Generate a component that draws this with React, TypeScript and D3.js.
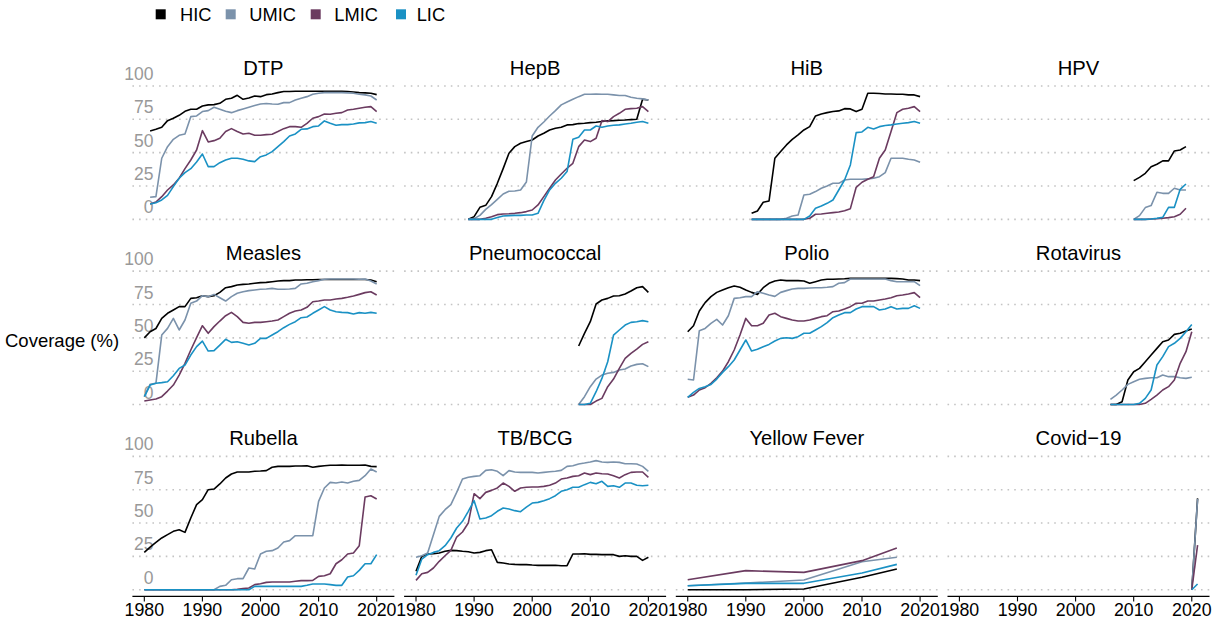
import React from "react";
import * as d3 from "d3";

const groups = ["HIC", "UMIC", "LMIC", "LIC"];
const groupColors = ["#000000", "#7b92ab", "#6b3b60", "#1a91c4"];
const xTicks = [1980, 1990, 2000, 2010, 2020];
const yTicks = [0, 25, 50, 75, 100];

// DTP 1981-2020
const dtpYears = d3.range(1981, 2021);
const dtpHIC = [66.3, 67.5, 69, 74, 75.8, 78, 81, 82.5, 82.5, 85, 85.8, 86, 87, 90, 90.8, 93, 90, 91, 92.5, 92, 93.5, 94, 95, 95.8, 95.8, 96, 96, 96, 96, 96, 96, 96, 96, 96, 95.8, 95.5, 95, 94.8, 94.5, 93.5];
const dtpUMIC = [16.5, 17, 45.8, 54.5, 60, 63, 64, 77, 77.5, 80.8, 81.5, 84, 82.5, 81, 80, 81.5, 82.8, 84, 85.3, 86.5, 86.8, 86.5, 86.3, 87.5, 87.5, 89.5, 90.8, 92, 93.8, 94.5, 95, 95, 95, 95, 94.8, 94.5, 93.8, 93.3, 92.5, 89.5];
const dtpLMIC = [11.5, 13, 17, 22, 25.8, 30.8, 38, 44.5, 52, 66.5, 58, 59, 60.8, 65.8, 68, 65.8, 64, 64.5, 63, 63, 63.5, 63.8, 65.8, 68, 69.5, 69.5, 69, 72, 75.8, 77, 79, 78.8, 79.5, 80, 82, 82.5, 83.3, 84, 84.5, 80.8];
const dtpLIC = [11.5, 12.5, 14.5, 18, 24.5, 30.8, 35, 38, 43, 49, 39.5, 39.5, 42.5, 44.5, 45.8, 45.8, 45, 43.8, 43.3, 47, 48.3, 50.8, 54.5, 58.3, 62.5, 64, 67.5, 67.8, 69.5, 70, 73.8, 72, 70.5, 71, 71, 71.5, 72.3, 72.5, 73.3, 72];

// HepB 1989-2020
const hepbYears = d3.range(1989, 2021);
const hepbHIC = [0, 2, 9, 10.5, 17, 27, 38, 49.5, 54.5, 57, 58.3, 59.5, 62.5, 64.5, 67, 68.3, 69, 70.8, 71, 71.8, 72, 72.5, 72.8, 73.3, 73.8, 74, 74.3, 74.5, 74.8, 75, 90, 89.5];
const hepbUMIC = [0, 0.5, 3, 7.5, 11, 15, 19, 21, 21.3, 22, 28, 62.5, 69, 73, 77.5, 81.5, 85.8, 88, 90, 92, 93.8, 93.8, 94, 93.8, 93.8, 93.3, 92.8, 92.8, 91.5, 90.8, 90.3, 89.5];
const hepbLMIC = [0, 0, 0, 0.8, 2, 3.5, 4, 4.2, 4.5, 5, 5.8, 7, 10.8, 17, 23.3, 29.5, 34, 38.3, 42, 54.5, 59.5, 58.3, 60.8, 74, 73.3, 77, 79.5, 82.5, 83, 83.3, 84.5, 80.8];
const hepbLIC = [0, 0, 0, 0, 0, 1.3, 2.5, 2.8, 3, 3, 3.3, 3.3, 4.5, 14, 22, 27, 30.8, 35.8, 60, 61.5, 67, 67, 70, 69, 70, 70.5, 70.8, 71.5, 72, 72.8, 73.3, 72];

// HiB 1991-2020
const hibYears = d3.range(1991, 2021);
const hibHIC = [4.5, 6.3, 12.8, 13.8, 45.8, 50.8, 55.8, 60, 63.3, 67, 69.5, 77.5, 79, 80, 80.8, 81.3, 83, 82.8, 80.8, 82.5, 94.5, 94.5, 94.3, 94, 94, 93.8, 93.8, 93.3, 93.3, 92];
const hibUMIC = [0, 0, 0, 0, 0, 0, 0.8, 2.5, 3.3, 18.3, 18.8, 20.8, 23.3, 25, 27, 27, 29.5, 30, 30, 30, 30.3, 30.8, 32, 35, 45.8, 45.8, 45.8, 45, 44.5, 42.8];
const hibLMIC = [0, 0, 0, 0, 0, 0, 0, 0, 0, 0, 0.8, 3.8, 4, 4.5, 5, 5.5, 6.5, 8, 24, 27.8, 30, 32, 45.8, 52, 65.8, 80, 82.5, 83.3, 84.5, 80.8];
const hibLIC = [0, 0, 0, 0, 0, 0, 0, 0, 0, 0, 2.5, 8.3, 10, 12, 14.5, 22, 29.5, 40.8, 65, 65.5, 69, 67.8, 69.5, 70.3, 70.8, 71.5, 72, 72.5, 73.3, 72];

// HPV 2010-2019
const hpvYears = d3.range(2010, 2020);
const hpvHIC = [29, 31.5, 34.5, 39.5, 41.3, 43.8, 43.8, 51.3, 52, 54.5];
const hpvUMIC = [0, 2.8, 8.8, 10.3, 20.3, 19.5, 19.5, 23.3, 22, 22];
const hpvLMIC = [0, 0, 0, 0.3, 0.5, 0.8, 1.3, 2, 3.8, 8.3];
const hpvLIC = [0, 0, 0, 0.3, 0.8, 1.5, 9, 9, 22.5, 26.5];

// Measles 1980-2020
const measlesYears = d3.range(1980, 2021);
const measlesHIC = [50, 54.6, 57, 64.6, 68.4, 70.9, 73.4, 73.4, 79.6, 80.1, 81.6, 80.9, 81.6, 84.1, 87.6, 88.4, 89.6, 90.1, 90.4, 90.9, 91.4, 91.6, 92.1, 92.6, 92.9, 92.9, 93.4, 93.4, 93.6, 93.6, 93.8, 93.8, 93.8, 93.8, 93.8, 93.8, 93.8, 93.8, 93.8, 93.4, 92.1];
const measlesUMIC = [5.9, 15.1, 15.9, 52.1, 57.1, 64.6, 55.9, 63.4, 75.9, 77.6, 81.6, 80.9, 82.6, 80.1, 77.6, 80.9, 83.4, 84.6, 85.4, 85.9, 86.4, 86.6, 87.1, 86.4, 86.4, 86.6, 87.1, 90.4, 90.9, 92.1, 92.9, 93.9, 94.1, 94.1, 94.1, 94.1, 94.1, 93.9, 94.1, 92.6, 90.4];
const measlesLMIC = [2.6, 3.4, 4.1, 5.9, 10.1, 14.6, 22.1, 30.9, 40.9, 50.1, 59.1, 53.4, 58.4, 62.6, 66.6, 69.1, 65.9, 61.6, 60.9, 61.6, 61.6, 62.1, 62.6, 63.4, 65.9, 68.4, 70.1, 70.9, 72.9, 77.1, 77.6, 78.4, 78.4, 79.1, 79.6, 80.4, 81.4, 82.6, 83.9, 84.6, 82.1];
const measlesLIC = [5.9, 14.6, 15.9, 16.4, 17.1, 21.6, 27.1, 29.6, 37.1, 43.4, 47.6, 40.1, 40.4, 44.6, 48.9, 46.6, 47.1, 45.9, 44.6, 45.9, 49.6, 49.6, 52.1, 54.6, 57.6, 60.1, 62.1, 65.1, 65.6, 68.4, 70.9, 73.4, 70.9, 69.6, 69.1, 68.9, 67.9, 68.9, 68.4, 69.1, 68.4];

// Pneumococcal 2008-2020
const pneumoYears = d3.range(2008, 2021);
const pneumoHIC = [43.9, 53.4, 62.1, 75.4, 78.4, 79.6, 81.4, 81.6, 82.9, 85.1, 87.6, 88.4, 84.1];
const pneumoUMIC = [0, 5.9, 13.4, 19.1, 22.1, 23.4, 24.1, 25.9, 26.6, 28.9, 30.1, 30.6, 28.4];
const pneumoLMIC = [0, 0, 0, 2.6, 4.6, 13.4, 19.1, 27.1, 34.6, 38.4, 41.6, 45.1, 47.1];
const pneumoLIC = [0, 0, 0.9, 9.6, 19.6, 32.1, 52.1, 55.9, 59.6, 61.6, 62.1, 62.9, 62.1];

// Polio 1980-2020
const polioYears = d3.range(1980, 2021);
const polioHIC = [54.6, 59.1, 70.1, 76.4, 80.9, 84.1, 85.9, 87.6, 88.9, 87.9, 85.9, 84.1, 82.6, 87.6, 90.9, 92.6, 93.4, 92.9, 92.9, 92.9, 92.6, 90.9, 92.1, 93.4, 93.9, 93.9, 94.1, 94.3, 94.6, 94.6, 94.6, 94.6, 94.6, 94.6, 94.6, 94.6, 94.4, 94.1, 93.4, 93.4, 92.9];
const polioUMIC = [18.9, 18.4, 55.4, 57.1, 60.9, 63.9, 59.6, 66.6, 79.6, 80.1, 80.9, 80.9, 84.6, 83.4, 82.1, 81.1, 84.1, 85.4, 86.6, 87.1, 87.1, 87.4, 87.6, 87.6, 87.9, 88.4, 90.9, 91.4, 94.1, 94.1, 94.1, 94.1, 94.1, 94.1, 94.1, 92.9, 92.1, 92.1, 92.1, 92.1, 89.1];
const polioLMIC = [5.4, 7.1, 10.9, 12.6, 15.9, 20.1, 25.1, 32.1, 40.9, 52.1, 64.6, 59.1, 59.1, 60.9, 67.1, 68.4, 65.9, 64.6, 63.4, 62.6, 62.6, 63.4, 64.6, 65.9, 66.6, 69.6, 70.1, 71.6, 73.4, 75.9, 75.9, 77.6, 77.6, 78.4, 79.1, 80.1, 81.6, 82.1, 82.9, 83.9, 80.1];
const polioLIC = [5.4, 9.1, 12.1, 13.4, 15.1, 19.1, 24.1, 28.4, 33.4, 40.9, 48.4, 40.1, 41.4, 43.4, 45.1, 47.6, 49.6, 50.1, 49.6, 50.9, 53.4, 53.4, 55.9, 58.4, 61.4, 65.1, 67.1, 68.9, 68.9, 71.6, 73.4, 73.4, 73.4, 70.9, 71.6, 73.4, 71.6, 72.1, 72.1, 74.1, 72.1];

// Rotavirus 2006-2020
const rotaYears = d3.range(2006, 2021);
const rotaHIC = [0, 0, 2.1, 18.4, 24.6, 27.1, 32.1, 37.1, 42.1, 47.1, 48.4, 52.6, 53.4, 55.1, 56.6];
const rotaUMIC = [3.9, 7.1, 10.9, 15.1, 17.1, 18.9, 19.6, 20.1, 20.1, 22.1, 20.9, 20.9, 20.1, 19.6, 20.4];
const rotaLMIC = [0, 0, 0, 0, 0, 0, 0.9, 3.9, 7.1, 10.9, 13.4, 18.4, 30.9, 39.6, 54.6];
const rotaLIC = [0, 0, 0, 0, 0, 0.9, 4.6, 10.9, 29.6, 35.9, 43.4, 45.9, 49.6, 54.6, 60.1];

// Rubella 1980-2020
const rubellaYears = d3.range(1980, 2021);
const rubellaHIC = [28, 32, 35.5, 38.8, 41.3, 43.8, 45, 43, 53.8, 63.8, 67.5, 75, 75.5, 79.3, 83.8, 86.8, 88.3, 88.3, 88.3, 88.8, 89, 89.3, 91.8, 92.5, 92.5, 92.5, 92.8, 92.8, 93, 91.8, 92.5, 93, 93.3, 93.3, 93.5, 93.3, 93.3, 93.3, 93.5, 92.5, 92.3];
const rubellaUMIC = [0, 0, 0, 0, 0, 0, 0, 0, 0, 0, 0, 0, 0, 2.5, 3.3, 7.5, 8.3, 8.3, 16.3, 15.5, 26.8, 28.8, 29.3, 31.3, 35.8, 36.8, 40.5, 40.5, 40.5, 40.5, 66.3, 76.3, 80.5, 80, 80.8, 80, 81.3, 82, 85.5, 90.5, 88.3];
const rubellaLMIC = [0, 0, 0, 0, 0, 0, 0, 0, 0, 0, 0, 0, 0, 0, 0, 0, 0.3, 0.8, 1.3, 3.8, 4.5, 5.5, 5.8, 5.8, 5.8, 5.8, 6.3, 6.8, 6.8, 7, 10, 10.5, 12, 19.5, 22.5, 26.8, 27.5, 33, 69.5, 70.5, 68];
const rubellaLIC = [0, 0, 0, 0, 0, 0, 0, 0, 0, 0, 0, 0, 0, 0, 0, 0, 0, 0, 0, 2.5, 2.5, 2.5, 2.5, 2.5, 2.5, 2.5, 2.5, 2.5, 3.3, 4.3, 4.3, 4.3, 3.8, 3.3, 3.3, 9.5, 10.5, 14.5, 19.5, 19.5, 26.3];

// TB/BCG 1980-2020
const bcgYears = d3.range(1980, 2021);
const bcgHIC = [13.8, 25, 26.8, 27, 27.5, 28.8, 29.5, 29.3, 28.8, 28.5, 27.5, 28, 29.3, 30, 20.5, 20, 19.3, 19, 18.8, 18.8, 18.5, 18.3, 18.3, 18.3, 18.3, 18, 18, 26.8, 26.8, 27, 26.5, 26.5, 26.3, 26.3, 26.3, 25, 25.5, 25, 25, 22, 24.3];
const bcgUMIC = [24.3, 25.5, 27.5, 41.3, 55, 60, 63.8, 73, 83, 84.3, 85, 85.5, 89.5, 90, 88.8, 85.5, 89.3, 88.3, 88, 88, 88, 87.5, 88, 88.5, 88.8, 89.5, 92.5, 93, 94.3, 95, 95.8, 96.8, 95.8, 95.5, 95.8, 95.5, 94.5, 94.5, 94.3, 92.5, 88.8];
const bcgLMIC = [7, 12, 13, 16.3, 21.3, 25.5, 29.5, 39.5, 43.3, 50, 72, 68.3, 73, 74.5, 76.3, 80, 77.5, 73.8, 76.3, 76.8, 77, 77, 77.5, 78.3, 80, 83, 83.8, 85, 85.5, 87.5, 86.3, 87.5, 87, 86.8, 85.5, 83.8, 86.3, 88, 88.3, 88.3, 84.3];
const bcgLIC = [10.8, 23, 26.3, 28, 29.3, 33, 38.8, 46.3, 51.3, 58.8, 66.8, 53, 53.8, 55.5, 58.8, 61.3, 60.5, 59.3, 58.5, 62, 65, 65.5, 66.8, 68.3, 70.5, 73.8, 75, 76.8, 76.8, 78.8, 80.5, 79.5, 81.3, 77.5, 78, 76.8, 80, 80, 78.3, 78, 78.3];

// Yellow Fever
const yfYears = [1980, 1990, 2000, 2010, 2016];
const yfHIC = [0, 0, 0.5, 9.3, 15.5];
const yfUMIC = [3, 5, 7.3, 21, 24.3];
const yfLMIC = [7.5, 14.3, 13, 21.8, 31.3];
const yfLIC = [3, 4.8, 4.8, 12.5, 19];

// Covid-19
const covidYears = [2020, 2021];
const covidHIC = [0, 68.5];
const covidUMIC = [0, 68];
const covidLMIC = [0, 33.5];
const covidLIC = [0, 4.3];

const vaccineNames = ["DTP", "HepB", "HiB", "HPV", "Measles", "Pneumococcal", "Polio", "Rotavirus", "Rubella", "TB/BCG", "Yellow Fever", "Covid\u221219"];
const vaccineYears = [dtpYears, hepbYears, hibYears, hpvYears, measlesYears, pneumoYears, polioYears, rotaYears, rubellaYears, bcgYears, yfYears, covidYears];
const vaccineSeries = [
  [dtpHIC, dtpUMIC, dtpLMIC, dtpLIC],
  [hepbHIC, hepbUMIC, hepbLMIC, hepbLIC],
  [hibHIC, hibUMIC, hibLMIC, hibLIC],
  [hpvHIC, hpvUMIC, hpvLMIC, hpvLIC],
  [measlesHIC, measlesUMIC, measlesLMIC, measlesLIC],
  [pneumoHIC, pneumoUMIC, pneumoLMIC, pneumoLIC],
  [polioHIC, polioUMIC, polioLMIC, polioLIC],
  [rotaHIC, rotaUMIC, rotaLMIC, rotaLIC],
  [rubellaHIC, rubellaUMIC, rubellaLMIC, rubellaLIC],
  [bcgHIC, bcgUMIC, bcgLMIC, bcgLIC],
  [yfHIC, yfUMIC, yfLMIC, yfLIC],
  [covidHIC, covidUMIC, covidLMIC, covidLIC],
];

const W = 1213;
const H = 628;
const FONT = "'Liberation Sans', Arial, Helvetica, sans-serif";
const panelW = 262;
const panelH = 146.7;
const col0 = 132.4;
const colStep = 271.7;
const row0 = 79.3;
const rowStep = 185.2;

export default function App() {
  const xDomain: [number, number] = [1980 - 2.05, 2021 + 2.05];
  const yDomain: [number, number] = [-5, 105];

  const legendX = [155.7, 225.7, 310.7, 396];
  const legendTextX = [180, 249.3, 334.3, 416.7];

  return (
    <svg width={W} height={H} style={{ position: "absolute", left: 0, top: 0, background: "#fff" }} fontFamily={FONT}>
      {groups.map((g, i) => (
        <g key={g}>
          <rect x={legendX[i]} y={9.3} width={10} height={10} fill={groupColors[i]} />
          <text x={legendTextX[i]} y={20.8} fontSize={18.3} fill="#000">{g}</text>
        </g>
      ))}
      <text x={5} y={347} fontSize={18.5} fill="#000">Coverage (%)</text>
      {vaccineNames.map((name, idx) => {
        const c = idx % 4;
        const r = Math.floor(idx / 4);
        const left = col0 + c * colStep;
        const top = row0 + r * rowStep;
        const x = d3.scaleLinear().domain(xDomain).range([left, left + panelW]);
        const y = d3.scaleLinear().domain(yDomain).range([top + panelH, top]);
        const years = vaccineYears[idx];
        const line = d3.line<number>().x((_, i) => x(years[i])).y((v) => y(v));
        return (
          <g key={name}>
            {yTicks.map((t) => (
              <line key={t} x1={left} x2={left + panelW} y1={y(t)} y2={y(t)} stroke="#c4c4c4" strokeWidth={1.6} strokeDasharray="1.6 5.07" />
            ))}
            {c === 0 &&
              yTicks.map((t) => (
                <text key={"l" + t} x={153.4} y={y(t) - 6} textAnchor="end" fontSize={17.5} fill="#999999">{t}</text>
              ))}
            <text x={left + panelW / 2} y={top - 4.5} textAnchor="middle" fontSize={20.2} fill="#000">{name}</text>
            {vaccineSeries[idx].map((vals, gi) => (
              <path key={gi} d={line(vals) || ""} fill="none" stroke={groupColors[gi]} strokeWidth={1.6} strokeLinejoin="round" />
            ))}
            {r === 2 && (
              <g>
                <line x1={left} x2={left + panelW} y1={top + panelH} y2={top + panelH} stroke="#000" strokeWidth={1.1} />
                {xTicks.map((t) => (
                  <g key={t}>
                    <line x1={x(t)} x2={x(t)} y1={top + panelH} y2={top + panelH + 5} stroke="#000" strokeWidth={1.1} />
                    <text x={x(t)} y={top + panelH + 19.5} textAnchor="middle" fontSize={17.8} fill="#000">{t}</text>
                  </g>
                ))}
              </g>
            )}
          </g>
        );
      })}
    </svg>
  );
}
